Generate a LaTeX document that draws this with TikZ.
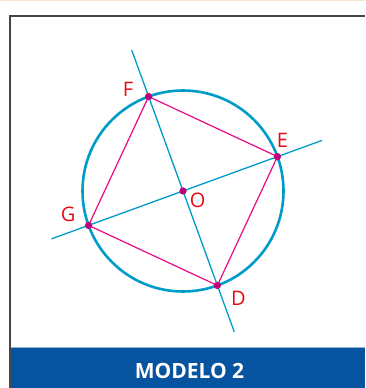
\documentclass[tikz,border=0pt]{standalone}
\usepackage{fontspec}
\setmainfont{Open Sans}
\usetikzlibrary{positioning}
\definecolor{cyanline}{RGB}{0,156,201}
\definecolor{pinkside}{RGB}{232,10,128}
\definecolor{dotmag}{RGB}{190,0,122}
\definecolor{labred}{RGB}{235,10,20}
\definecolor{barblue}{RGB}{6,83,160}
\definecolor{framegray}{RGB}{70,70,70}
\definecolor{peach}{RGB}{245,228,212}

\begin{document}
\begin{tikzpicture}[x=1pt,y=1pt]
\tikzstyle{dot}=[circle,fill=dotmag,inner sep=0pt,minimum size=7pt]
\tikzstyle{lbl}=[text=labred,inner sep=0pt,font=\fontsize{20}{20}\selectfont]
\useasboundingbox (0,0) rectangle (365,388);
% frame and title bar
\fill[peach] (0,386.6) rectangle (365,388);
\fill[barblue] (11,0) rectangle (365,40);
\draw[barblue!45,line width=0.7pt] (11,40.3) -- (365,40.3);
\draw[framegray,line width=1.8pt] (10.3,0) -- (10.3,372.3) -- (365,372.3);
\node[text=white,inner sep=0pt,font=\fontsize{21}{21}\selectfont\bfseries] (title) at (189.5,16.8) {MODELO 2};
% circle and diameters
\node[dot] (O) at (183,197) {};
\draw[cyanline,line width=2.6pt] (O) circle (100.5);
\coordinate (t1) at ([shift={(110:150)}]O);
\coordinate (t2) at ([shift={(290:150)}]O);
\coordinate (t3) at ([shift={(200:140)}]O);
\coordinate (t4) at ([shift={(20:148)}]O);
\node[dot] (F) at ([shift={(110:100.5)}]O) {};
\node[dot] (E) at ([shift={(20:100.5)}]O) {};
\node[dot] (D) at ([shift={(290:100.5)}]O) {};
\node[dot] (G) at ([shift={(200:100.5)}]O) {};
\draw[cyanline,line width=1.3pt] (t1) -- (t2);
\draw[cyanline,line width=1.3pt] (t3) -- (t4);
\draw[pinkside,line width=1.2pt] (F.center) -- (E.center) -- (D.center) -- (G.center) -- cycle;
\foreach \p in {O,F,E,D,G}
  \node[dot] at (\p) {};
% letters
\node[lbl] (lF) at ([shift={(-20.7,7)}]F) {F};
\node[lbl] (lE) at ([shift={(5,16)}]E) {E};
\node[lbl] (lG) at ([shift={(-20.4,11)}]G) {G};
\node[lbl] (lO) at ([shift={(14.6,-9)}]O) {O};
\node[lbl] (lD) at ([shift={(21,-12.7)}]D) {D};
\end{tikzpicture}
\end{document}
